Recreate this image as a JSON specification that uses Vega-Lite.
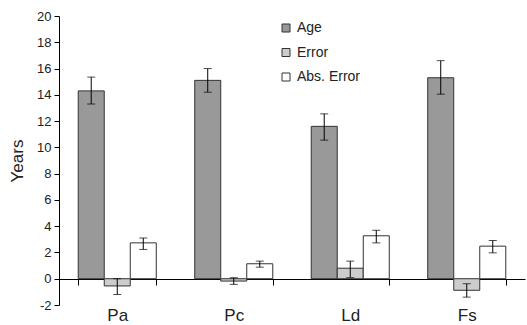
{
  "$schema": "https://vega.github.io/schema/vega-lite/v6.json",
  "width": 466,
  "height": 289,
  "autosize": "none",
  "padding": {"left": 59, "top": 16, "right": 2, "bottom": 20},
  "background": "white",
  "config": {
    "view": {"stroke": null},
    "font": "Liberation Sans",
    "axis": {"grid": false, "domainColor": "#000", "tickColor": "#000", "labelColor": "#222", "titleColor": "#222", "labelFont": "Liberation Sans", "titleFont": "Liberation Sans"},
    "axisY": {"labelOverlap": false, "labelFontSize": 13, "tickSize": 5, "labelPadding": 3, "titleFontSize": 17, "titleFontWeight": "normal", "titlePadding": 10},
    "legend": {"labelFont": "Liberation Sans"}
  },
  "data": {
    "values": [
      {"cat": "Pa", "series": "Age", "value": 14.3, "lo": 13.3, "hi": 15.35},
      {"cat": "Pa", "series": "Error", "value": -0.55, "lo": -1.2, "hi": 0.0},
      {"cat": "Pa", "series": "Abs. Error", "value": 2.73, "lo": 2.23, "hi": 3.1},
      {"cat": "Pc", "series": "Age", "value": 15.1, "lo": 14.2, "hi": 16.0},
      {"cat": "Pc", "series": "Error", "value": -0.18, "lo": -0.43, "hi": 0.08},
      {"cat": "Pc", "series": "Abs. Error", "value": 1.14, "lo": 0.88, "hi": 1.34},
      {"cat": "Ld", "series": "Age", "value": 11.6, "lo": 10.55, "hi": 12.55},
      {"cat": "Ld", "series": "Error", "value": 0.8, "lo": 0.08, "hi": 1.34},
      {"cat": "Ld", "series": "Abs. Error", "value": 3.27, "lo": 2.73, "hi": 3.69},
      {"cat": "Fs", "series": "Age", "value": 15.3, "lo": 14.05, "hi": 16.6},
      {"cat": "Fs", "series": "Error", "value": -0.88, "lo": -1.4, "hi": -0.38},
      {"cat": "Fs", "series": "Abs. Error", "value": 2.48, "lo": 1.97, "hi": 2.91}
    ]
  },
  "encoding": {
    "x": {
      "field": "cat", "type": "nominal", "sort": ["Pa", "Pc", "Ld", "Fs"],
      "scale": {"paddingInner": 0.33, "paddingOuter": 0.165},
      "axis": {"title": null, "labelAngle": 0, "labelFontSize": 17, "offset": -26, "tickBand": "extent", "tickSize": 6, "labelPadding": 22}
    },
    "xOffset": {"field": "series", "type": "nominal", "sort": ["Age", "Error", "Abs. Error"], "scale": {"padding": 0}}
  },
  "layer": [
    {
      "mark": {"type": "bar", "stroke": "#333", "strokeWidth": 1},
      "encoding": {
        "y": {
          "field": "value", "type": "quantitative",
          "scale": {"domain": [-2, 20], "nice": false, "zero": false},
          "axis": {"title": "Years", "values": [-2, 0, 2, 4, 6, 8, 10, 12, 14, 16, 18, 20], "labelOverlap": false, "labelExpr": "datum.value < 0 ? '-' + abs(datum.value) : '' + datum.value"}
        },
        "y2": {"datum": 0},
        "fill": {
          "field": "series", "type": "nominal", "sort": ["Age", "Error", "Abs. Error"],
          "scale": {"domain": ["Age", "Error", "Abs. Error"], "range": ["#999999", "#cccccc", "#ffffff"]},
          "legend": {"title": null, "orient": "none", "legendX": 220, "legendY": 5, "symbolType": "square", "symbolSize": 64, "symbolStrokeColor": "#333", "symbolStrokeWidth": 1, "labelFontSize": 14, "rowPadding": 10.5, "labelColor": "#222"}
        }
      }
    },
    {
      "mark": {"type": "rule", "color": "#000", "strokeWidth": 1},
      "encoding": {
        "y": {"field": "lo", "type": "quantitative", "axis": {"title": "Years", "values": [-2, 0, 2, 4, 6, 8, 10, 12, 14, 16, 18, 20], "labelOverlap": false, "labelExpr": "datum.value < 0 ? '-' + abs(datum.value) : '' + datum.value"}},
        "y2": {"field": "hi"}
      }
    },
    {
      "mark": {"type": "tick", "color": "#000", "thickness": 1, "size": 8},
      "encoding": {"y": {"field": "lo", "type": "quantitative", "axis": {"title": "Years", "values": [-2, 0, 2, 4, 6, 8, 10, 12, 14, 16, 18, 20], "labelOverlap": false, "labelExpr": "datum.value < 0 ? '-' + abs(datum.value) : '' + datum.value"}}}
    },
    {
      "mark": {"type": "tick", "color": "#000", "thickness": 1, "size": 8},
      "encoding": {"y": {"field": "hi", "type": "quantitative", "axis": {"title": "Years", "values": [-2, 0, 2, 4, 6, 8, 10, 12, 14, 16, 18, 20], "labelOverlap": false, "labelExpr": "datum.value < 0 ? '-' + abs(datum.value) : '' + datum.value"}}}
    }
  ]
}
